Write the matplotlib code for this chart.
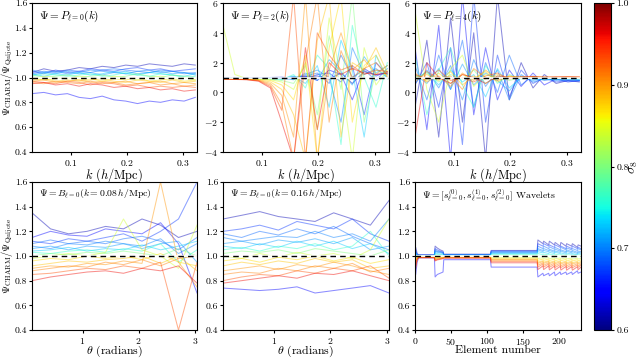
import numpy as np
import matplotlib
matplotlib.use('Agg')
import matplotlib.pyplot as plt
from matplotlib import cm, colors

plt.rcParams['font.family'] = 'serif'
plt.rcParams['font.serif'] = ['cmr10', 'DejaVu Serif']
plt.rcParams['mathtext.fontset'] = 'cm'
plt.rcParams['axes.formatter.use_mathtext'] = True
plt.rcParams['axes.unicode_minus'] = True

# sigma_8 of each simulation (one curve per simulation in every panel)
sigma8 = [0.62, 0.65, 0.67, 0.69, 0.70, 0.71, 0.73, 0.76,
          0.80, 0.84, 0.87, 0.88, 0.90, 0.91, 0.93, 0.96]

k_bins = [0.031, 0.052, 0.073, 0.094, 0.115, 0.135, 0.156, 0.177,
          0.198, 0.219, 0.240, 0.260, 0.281, 0.302, 0.322]
theta_bins = [0.10, 0.43, 0.75, 1.08, 1.41, 1.73, 2.06, 2.39, 2.71, 3.04]
wav_x = [0, 1, 3, 5, 27, 28, 31, 35, 39, 40, 105, 106, 170, 171, 178, 179,
         186, 187, 194, 195, 202, 203, 210, 211, 218, 219, 226, 227, 231]

pk0_ratio = [
    [1.04, 1.07, 1.05, 1.06, 1.08, 1.07, 1.09, 1.08, 1.10, 1.09, 1.11, 1.10, 1.09, 1.11, 1.10],
    [0.87, 0.88, 0.86, 0.87, 0.84, 0.83, 0.85, 0.82, 0.81, 0.79, 0.81, 0.80, 0.82, 0.81, 0.84],
    [1.05, 1.03, 1.06, 1.04, 1.05, 1.07, 1.06, 1.05, 1.07, 1.08, 1.06, 1.07, 1.05, 1.06, 1.07],
    [1.03, 1.05, 1.04, 1.06, 1.05, 1.04, 1.06, 1.07, 1.06, 1.05, 1.04, 1.06, 1.05, 1.04, 1.03],
    [1.06, 1.04, 1.05, 1.03, 1.04, 1.06, 1.05, 1.04, 1.03, 1.05, 1.06, 1.04, 1.05, 1.03, 1.04],
    [1.02, 1.04, 1.03, 1.05, 1.03, 1.04, 1.02, 1.04, 1.05, 1.03, 1.04, 1.05, 1.03, 1.04, 1.02],
    [1.03, 1.01, 1.03, 1.02, 1.04, 1.02, 1.03, 1.05, 1.03, 1.02, 1.04, 1.03, 1.02, 1.01, 1.03],
    [1.01, 1.03, 1.02, 1.01, 1.02, 1.03, 1.01, 1.02, 1.04, 1.02, 1.01, 1.03, 1.02, 1.00, 1.01],
    [1.02, 1.00, 1.01, 1.02, 1.00, 1.01, 1.02, 1.00, 1.01, 1.03, 1.01, 1.00, 1.02, 1.01, 1.00],
    [0.99, 1.01, 1.00, 0.99, 1.01, 1.00, 0.99, 1.01, 1.00, 0.98, 1.00, 1.01, 0.99, 1.00, 0.98],
    [1.00, 0.98, 0.99, 1.00, 0.98, 0.99, 0.97, 0.99, 0.98, 1.00, 0.97, 0.98, 0.99, 0.97, 0.98],
    [0.98, 0.99, 0.97, 0.98, 0.97, 0.98, 0.99, 0.97, 0.96, 0.98, 0.97, 0.96, 0.98, 0.96, 0.97],
    [0.97, 0.98, 0.96, 0.97, 0.98, 0.96, 0.97, 0.96, 0.97, 0.95, 0.96, 0.97, 0.95, 0.96, 0.95],
    [0.96, 0.95, 0.97, 0.96, 0.95, 0.97, 0.95, 0.96, 0.94, 0.95, 0.96, 0.94, 0.95, 0.93, 0.94],
    [0.97, 0.96, 0.95, 0.97, 0.96, 0.94, 0.96, 0.95, 0.93, 0.94, 0.92, 0.93, 0.92, 0.93, 0.92],
    [0.95, 0.96, 0.94, 0.95, 0.93, 0.95, 0.94, 0.92, 0.93, 0.91, 0.92, 0.90, 0.91, 0.89, 0.90],
]

pk2_ratio = [
    [0.95, 0.93, 0.95, 0.97, 0.96, 1.00, 0.98, 1.05, 1.10, 0.90, 1.30, 0.60, 1.40, 1.20, 1.30],
    [1.00, 0.97, 0.98, 0.96, 1.00, 1.02, 0.95, 1.10, 0.80, 1.50, 1.20, -0.5, 1.60, 1.10, 1.40],
    [0.92, 0.95, 0.94, 0.96, 0.98, 0.95, 1.05, 0.90, 1.20, 1.30, 0.70, 1.80, -1.5, 2.00, 1.20],
    [0.97, 0.94, 0.96, 0.95, 0.94, 0.98, 1.00, 1.10, 1.30, 0.60, 2.50, 1.00, 1.50, 0.80, 1.60],
    [0.94, 0.96, 0.93, 0.95, 0.97, 0.93, 0.90, 1.20, 1.50, 1.00, -2.0, 3.00, 1.20, 1.60, 1.00],
    [0.96, 0.92, 0.95, 0.94, 0.92, 0.96, 0.85, 1.30, 0.80, 2.20, 1.40, 0.50, 2.40, 1.30, 1.80],
    [0.95, 0.94, 0.92, 0.93, 0.95, 0.90, 1.10, 0.60, 1.80, -1.0, 3.50, 1.50, -3.0, 2.50, 0.90],
    [0.93, 0.95, 0.94, 0.91, 0.93, 0.85, 1.20, 0.30, 2.50, 1.60, -3.5, 4.50, 1.00, -1.0, 2.00],
    [0.94, 0.92, 0.93, 0.90, 0.88, 0.80, 0.60, 1.80, -1.5, 3.80, 0.20, 6.50, -2.0, 1.50, 1.20],
    [4.50, 1.20, 0.93, 0.90, 0.85, 0.70, 0.20, 2.00, -2.5, 5.00, 1.00, -4.5, 3.00, 0.50, 1.50],
    [0.92, 0.90, 0.91, 0.87, 0.80, 0.50, -0.5, 2.50, -4.5, 3.00, 6.50, -2.0, 1.80, 2.50, 1.00],
    [0.91, 0.92, 0.89, 0.85, 0.70, 0.20, -1.5, -4.5, 3.50, 6.50, -3.0, 2.00, 1.50, 3.00, 1.30],
    [0.90, 0.89, 0.88, 0.82, 0.60, -0.2, -3.0, 6.50, -4.5, 1.50, 4.00, 1.50, 2.20, 1.20, 1.80],
    [0.92, 0.90, 0.87, 0.80, 0.50, -0.8, -4.5, 2.00, 6.50, -2.0, 2.80, 1.00, 1.60, 2.00, 1.10],
    [0.90, 0.88, 0.86, 0.78, 0.40, -1.2, 6.50, -4.5, 4.00, 2.50, 1.50, 1.80, 1.20, 1.50, 1.40],
    [0.89, 0.87, 0.85, 0.75, 0.30, -2.0, -4.5, 3.00, -2.5, 2.00, 1.20, 1.60, 1.30, 1.20, 1.30],
]

pk4_ratio = [
    [-1.0, 3.50, -3.0, 5.00, -2.0, 4.00, -4.5, 6.50, -0.5, 2.00, 0.30, 1.20, 0.60, 0.80, 0.70],
    [3.00, -2.5, 4.50, -4.5, 6.50, -1.5, 3.00, -0.5, 1.50, 0.40, 1.30, 0.50, 0.90, 0.70, 0.80],
    [0.50, 2.00, -1.0, 3.00, -3.5, 6.50, -2.0, 2.50, -0.3, 1.50, 0.60, 1.00, 0.70, 0.80, 0.75],
    [1.80, -0.5, 2.50, 0.20, 3.50, -1.0, 2.00, 0.00, 2.50, 0.50, 1.10, 0.80, 0.90, 0.75, 0.80],
    [0.60, 1.50, 0.30, 1.80, -0.5, 2.20, 0.40, 1.50, -0.5, 1.20, 0.70, 0.90, 0.80, 0.85, 0.80],
    [1.20, 0.60, 1.60, 0.20, 1.90, 0.50, 1.30, 0.80, 0.10, 1.10, 0.80, 0.95, 0.85, 0.90, 0.85],
    [0.80, 1.40, 0.50, 1.50, 0.70, 1.20, -0.3, 1.60, 0.30, 1.00, 0.90, 0.85, 0.95, 0.90, 0.90],
    [2.50, -1.5, 1.50, 3.00, 0.50, -1.0, 1.80, 0.60, 1.20, 0.90, 1.00, 0.95, 0.90, 0.95, 0.92],
    [1.00, 1.30, 0.70, 1.20, 0.90, 1.50, 0.60, 1.10, 0.80, 1.00, 0.95, 1.00, 0.92, 0.97, 0.95],
    [5.50, 0.20, -2.0, 1.60, 2.50, 0.40, 1.20, 0.90, 1.00, 0.95, 1.05, 0.98, 1.00, 0.97, 1.00],
    [1.10, 0.80, 1.30, 0.60, 1.20, 0.90, 1.40, 0.70, 1.10, 1.00, 1.02, 0.98, 1.00, 1.01, 0.99],
    [0.90, 1.20, 0.80, 1.40, 0.50, 1.10, 0.90, 1.20, 0.95, 1.05, 1.00, 1.02, 0.99, 1.03, 1.00],
    [1.30, 0.70, 1.10, 0.40, 1.30, 0.80, 1.50, 0.90, 1.05, 0.98, 1.03, 1.00, 1.04, 1.00, 1.02],
    [0.70, 1.40, 0.90, 1.10, 0.20, 1.60, 1.00, 0.80, 1.10, 1.00, 1.05, 1.02, 1.00, 1.04, 1.01],
    [1.20, 0.90, 1.50, 0.80, 1.00, 0.70, 1.10, 1.30, 0.90, 1.05, 1.00, 1.03, 1.02, 1.00, 1.03],
    [-3.0, 2.00, 1.00, 0.60, 1.20, 1.00, 0.60, 1.10, 1.00, 1.02, 1.06, 1.00, 1.03, 1.05, 1.02],
]

bk008_ratio = [
    [1.35, 1.22, 1.18, 1.20, 1.24, 1.22, 1.30, 1.25, 1.15, 1.20],
    [1.15, 1.20, 1.17, 1.16, 1.22, 1.20, 1.18, 1.27, 1.10, 0.70],
    [1.12, 1.10, 1.14, 1.12, 1.15, 1.18, 1.12, 1.20, 1.30, 1.60],
    [1.10, 1.13, 1.10, 1.12, 1.10, 1.14, 1.16, 1.12, 1.05, 1.15],
    [1.08, 1.06, 1.10, 1.09, 1.12, 1.10, 1.08, 1.14, 1.02, 1.10],
    [1.06, 1.08, 1.05, 1.08, 1.07, 1.10, 1.06, 1.10, 1.12, 0.95],
    [1.04, 1.05, 1.07, 1.04, 1.06, 1.05, 1.09, 1.05, 1.08, 1.12],
    [1.03, 1.02, 1.04, 1.05, 1.03, 1.06, 1.04, 1.10, 0.95, 1.05],
    [1.00, 1.02, 1.01, 1.03, 1.02, 1.04, 1.02, 1.00, 1.06, 1.00],
    [0.98, 1.00, 1.02, 1.00, 1.03, 1.30, 1.05, 1.00, 0.90, 1.25],
    [0.96, 0.98, 0.97, 1.00, 0.98, 1.00, 0.97, 1.02, 0.95, 0.92],
    [0.92, 0.94, 0.96, 0.95, 0.97, 0.98, 1.00, 0.94, 1.00, 0.88],
    [0.90, 0.92, 0.91, 0.94, 0.93, 0.96, 0.94, 1.60, 0.95, 0.75],
    [0.88, 0.90, 0.92, 0.91, 0.95, 0.93, 0.97, 0.92, 0.98, 1.00],
    [0.85, 0.86, 0.88, 0.90, 0.89, 0.92, 0.90, 0.95, 0.40, 0.95],
    [0.80, 0.83, 0.85, 0.87, 0.88, 0.86, 0.90, 0.88, 0.92, 0.78],
]

bk016_ratio = [
    [1.30, 1.33, 1.36, 1.32, 1.30, 1.28, 1.35, 1.30, 1.25, 1.45],
    [0.74, 0.73, 0.72, 0.73, 0.75, 0.70, 0.72, 0.74, 0.76, 0.70],
    [1.20, 1.22, 1.25, 1.21, 1.28, 1.25, 1.22, 1.30, 1.18, 1.12],
    [1.18, 1.15, 1.20, 1.17, 1.22, 1.18, 1.24, 1.16, 1.10, 1.05],
    [1.15, 1.12, 1.14, 1.16, 1.15, 1.20, 1.15, 1.18, 1.12, 1.30],
    [1.10, 1.12, 1.09, 1.13, 1.11, 1.14, 1.10, 1.15, 1.05, 1.08],
    [1.08, 1.06, 1.10, 1.07, 1.12, 1.08, 1.12, 1.06, 1.10, 1.02],
    [1.05, 1.07, 1.04, 1.08, 1.06, 1.10, 1.05, 1.08, 1.20, 1.00],
    [1.02, 1.04, 1.03, 1.05, 1.02, 1.06, 1.04, 1.02, 1.00, 1.05],
    [1.00, 0.98, 1.02, 0.99, 1.03, 1.00, 1.02, 0.98, 1.05, 1.30],
    [0.96, 0.98, 0.95, 0.99, 0.97, 1.00, 0.96, 0.99, 0.94, 0.97],
    [0.92, 0.95, 0.93, 0.96, 0.94, 0.98, 0.95, 0.97, 0.90, 0.92],
    [0.88, 0.90, 0.92, 0.89, 0.93, 0.91, 0.95, 0.92, 0.88, 0.85],
    [0.85, 0.87, 0.86, 0.90, 0.88, 0.92, 0.90, 0.94, 0.87, 0.90],
    [0.80, 0.83, 0.85, 0.84, 0.88, 0.86, 0.90, 0.88, 0.92, 0.82],
    [0.78, 0.80, 0.82, 0.84, 0.82, 0.86, 0.85, 0.88, 0.84, 0.80],
]

wavelet_ratio = [
    [1.04, 1.07, 1.02, 1.01, 1.01, 1.08, 1.065, 1.05, 1.04, 1.015, 1.015, 1.045, 1.045, 1.13, 1.10,
     1.12, 1.09, 1.12, 1.09, 1.11, 1.08, 1.11, 1.08, 1.10, 1.08, 1.10, 1.07, 1.09, 1.08],
    [0.92, 0.85, 0.95, 0.985, 0.985, 0.83, 0.85, 0.86, 0.87, 0.97, 0.97, 0.91, 0.91, 0.83, 0.86,
     0.84, 0.86, 0.84, 0.87, 0.84, 0.87, 0.85, 0.87, 0.85, 0.87, 0.85, 0.88, 0.86, 0.87],
    [1.03, 1.05, 1.01, 1.008, 1.008, 1.06, 1.05, 1.04, 1.03, 1.012, 1.012, 1.04, 1.04, 1.10, 1.08,
     1.10, 1.08, 1.09, 1.07, 1.09, 1.07, 1.08, 1.06, 1.08, 1.06, 1.08, 1.06, 1.07, 1.06],
    [1.02, 1.04, 1.01, 1.006, 1.006, 1.05, 1.04, 1.035, 1.03, 1.01, 1.01, 1.035, 1.035, 1.08, 1.06,
     1.08, 1.06, 1.075, 1.055, 1.07, 1.05, 1.07, 1.05, 1.065, 1.05, 1.06, 1.045, 1.06, 1.05],
    [1.02, 1.03, 1.005, 1.005, 1.005, 1.04, 1.035, 1.03, 1.025, 1.008, 1.008, 1.03, 1.03, 1.06, 1.045,
     1.06, 1.045, 1.055, 1.04, 1.055, 1.04, 1.05, 1.035, 1.05, 1.035, 1.045, 1.03, 1.04, 1.035],
    [1.01, 1.025, 1.005, 1.004, 1.004, 1.035, 1.03, 1.025, 1.02, 1.006, 1.006, 1.025, 1.025, 1.05, 1.035,
     1.045, 1.035, 1.045, 1.03, 1.04, 1.03, 1.04, 1.025, 1.04, 1.025, 1.035, 1.02, 1.03, 1.025],
    [1.01, 1.02, 1.0, 1.003, 1.003, 1.025, 1.02, 1.015, 1.01, 1.005, 1.005, 1.02, 1.02, 1.035, 1.025,
     1.03, 1.02, 1.03, 1.02, 1.03, 1.02, 1.025, 1.015, 1.025, 1.015, 1.02, 1.01, 1.02, 1.015],
    [1.005, 1.01, 1.0, 1.002, 1.002, 1.015, 1.012, 1.01, 1.008, 1.003, 1.003, 1.012, 1.012, 1.02, 1.01,
     1.015, 1.01, 1.015, 1.008, 1.015, 1.008, 1.012, 1.005, 1.012, 1.005, 1.01, 1.005, 1.01, 1.005],
    [1.0, 1.0, 0.995, 1.0, 1.0, 1.005, 1.003, 1.002, 1.0, 1.0, 1.0, 1.003, 1.003, 1.005, 0.998,
     1.004, 0.997, 1.003, 0.996, 1.002, 0.996, 1.002, 0.995, 1.0, 0.995, 1.0, 0.994, 0.998, 0.995],
    [0.99, 0.98, 0.99, 0.997, 0.997, 0.99, 0.992, 0.994, 0.995, 0.997, 0.997, 0.99, 0.99, 0.98, 0.985,
     0.98, 0.986, 0.978, 0.985, 0.978, 0.984, 0.976, 0.984, 0.976, 0.983, 0.975, 0.982, 0.976, 0.98],
    [0.985, 0.97, 0.99, 0.995, 0.995, 0.985, 0.988, 0.99, 0.992, 0.995, 0.995, 0.982, 0.982, 0.965, 0.975,
     0.965, 0.975, 0.963, 0.974, 0.962, 0.973, 0.962, 0.972, 0.96, 0.972, 0.96, 0.97, 0.962, 0.968],
    [0.98, 0.96, 0.985, 0.993, 0.993, 0.98, 0.984, 0.987, 0.99, 0.993, 0.993, 0.975, 0.975, 0.95, 0.962,
     0.95, 0.962, 0.948, 0.96, 0.948, 0.96, 0.946, 0.958, 0.946, 0.958, 0.945, 0.957, 0.947, 0.955],
    [0.975, 0.95, 0.98, 0.99, 0.99, 0.975, 0.98, 0.984, 0.987, 0.99, 0.99, 0.97, 0.97, 0.94, 0.955,
     0.94, 0.955, 0.938, 0.953, 0.937, 0.952, 0.936, 0.95, 0.935, 0.95, 0.935, 0.948, 0.937, 0.945],
    [0.97, 0.94, 0.98, 0.99, 0.99, 0.97, 0.976, 0.98, 0.985, 0.988, 0.988, 0.965, 0.965, 0.925, 0.945,
     0.925, 0.945, 0.923, 0.943, 0.922, 0.942, 0.921, 0.94, 0.92, 0.94, 0.92, 0.938, 0.922, 0.935],
    [0.96, 0.92, 0.975, 0.988, 0.988, 0.965, 0.972, 0.977, 0.982, 0.985, 0.985, 0.955, 0.955, 0.91, 0.935,
     0.91, 0.935, 0.908, 0.932, 0.907, 0.93, 0.906, 0.93, 0.905, 0.928, 0.905, 0.927, 0.908, 0.925],
    [0.95, 0.90, 0.97, 0.985, 0.985, 0.96, 0.968, 0.973, 0.978, 0.982, 0.982, 0.945, 0.945, 0.89, 0.92,
     0.89, 0.92, 0.888, 0.918, 0.887, 0.916, 0.886, 0.915, 0.885, 0.914, 0.885, 0.913, 0.888, 0.91],
]

cmap = plt.get_cmap('jet')
norm = colors.Normalize(vmin=0.6, vmax=1.0)

fig = plt.figure(figsize=(6.4, 3.6), dpi=100)

W, H = 640.0, 360.0
def px_axes(x0, y0, x1, y1):
    return fig.add_axes([x0 / W, 1 - y1 / H, (x1 - x0) / W, (y1 - y0) / H])

cols = [(32, 197), (223, 389), (415, 581)]
rows = [(3, 152), (182, 330)]

panels = [
    (k_bins, pk0_ratio, r'$\Psi = P_{\ell=0}(k)$', (0.4, 1.6), 8),
    (k_bins, pk2_ratio, r'$\Psi = P_{\ell=2}(k)$', (-4, 6), 8),
    (k_bins, pk4_ratio, r'$\Psi = P_{\ell=4}(k)$', (-4, 6), 8),
    (theta_bins, bk008_ratio, r'$\Psi = B_{\ell=0}(k=0.08\,h/\mathrm{Mpc})$', (0.4, 1.6), 7),
    (theta_bins, bk016_ratio, r'$\Psi = B_{\ell=0}(k=0.16\,h/\mathrm{Mpc})$', (0.4, 1.6), 7),
    (wav_x, wavelet_ratio,
     r'$\Psi = [s^{(0)}_{\ell=0}, s^{(1)}_{\ell=0}, s^{(2)}_{\ell=0}]$ Wavelets', (0.4, 1.6), 7),
]

for i, (xv, curves, title, ylim, tsize) in enumerate(panels):
    r, c = divmod(i, 3)
    ax = px_axes(cols[c][0], rows[r][0], cols[c][1], rows[r][1])
    for s8, yv in zip(sigma8, curves):
        ax.plot(xv, yv, color=cmap(norm(s8)), lw=0.75, alpha=0.45)
    ax.axhline(1.0, color='white', lw=1.2)
    ax.axhline(1.0, color='black', lw=1.0, ls=(0, (4, 3)))
    ax.set_ylim(*ylim)
    if r == 0:
        ax.set_xlim(0.031, 0.325)
        ax.set_xticks([0.1, 0.2, 0.3])
        ax.set_xlabel(r'$k\ (h/\mathrm{Mpc})$', fontsize=9, labelpad=-1)
    elif c < 2:
        ax.set_xlim(0.10, 3.04)
        ax.set_xticks([1, 2, 3])
        ax.set_xlabel(r'$\theta$ (radians)', fontsize=8.5, labelpad=-1)
    else:
        ax.set_xlim(0, 231)
        ax.set_xticks([0, 50, 100, 150, 200])
        ax.set_xlabel('Element number', fontsize=8.5, labelpad=-1)
    if ylim == (0.4, 1.6):
        ax.set_yticks([0.4, 0.6, 0.8, 1.0, 1.2, 1.4, 1.6])
        ax.set_yticklabels(['0.4', '0.6', '0.8', '1.0', '1.2', '1.4', '1.6'])
    else:
        ax.set_yticks([-4, -2, 0, 2, 4, 6])
    ax.tick_params(labelsize=7, length=2.5, pad=1.5)
    ax.tick_params(axis='y', pad=1)
    if c == 0:
        ax.set_ylabel(r'$\Psi_{\mathrm{CHARM}}/\Psi_{\mathrm{Quijote}}$', fontsize=7.5)
        ax.yaxis.set_label_coords(-0.102, 0.5)
    ax.text(0.04, 0.96, title, transform=ax.transAxes, fontsize=tsize, va='top', ha='left')

cax = px_axes(594, 3, 611, 330)
sm = cm.ScalarMappable(norm=norm, cmap=cmap)
cb = fig.colorbar(sm, cax=cax, ticks=[0.6, 0.7, 0.8, 0.9, 1.0])
cb.ax.set_yticklabels(['0.6', '0.7', '0.8', '0.9', '1.0'])
cb.ax.tick_params(labelsize=7, length=2.5, pad=1.5)
cb.set_label(r'$\sigma_8$', fontsize=10, labelpad=-1)

fig.savefig('out.png', dpi=100)
